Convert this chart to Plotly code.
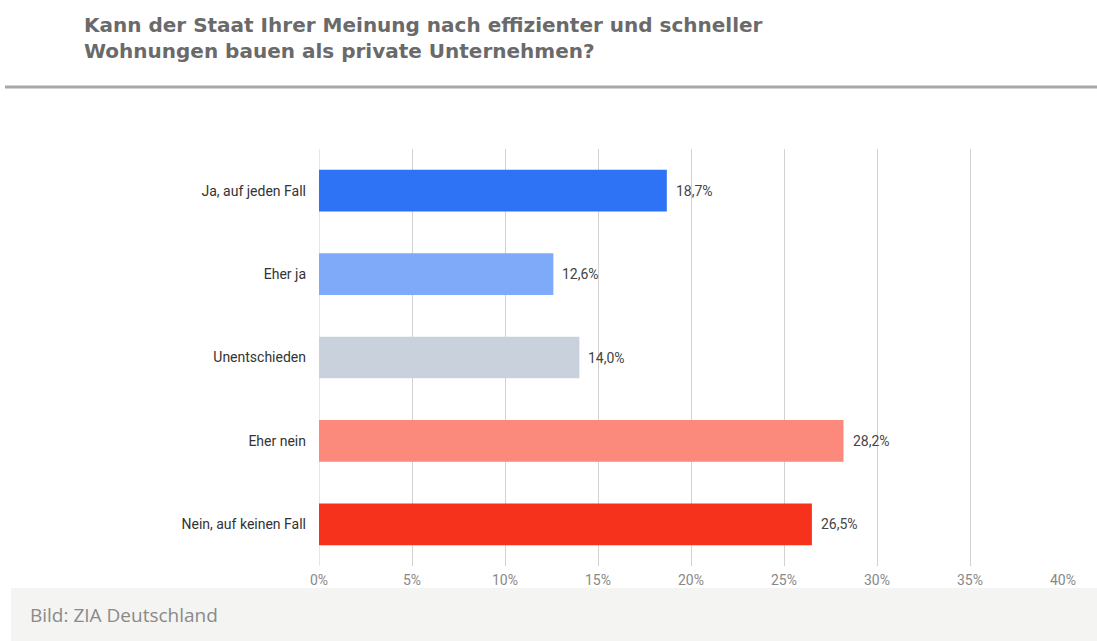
import plotly.graph_objects as go

# Survey answers (top to bottom) and their shares in percent
categories = ["Ja, auf jeden Fall", "Eher ja", "Unentschieden", "Eher nein", "Nein, auf keinen Fall"]
shares = [18.7, 12.6, 14.0, 28.2, 26.5]
bar_colors = ["#2e72f6", "#7eaaf9", "#c9d2dc", "#fb8a7c", "#f6321d"]
tick_values = [0, 5, 10, 15, 20, 25, 30, 35, 40]
tick_labels = [f"{t}%" for t in tick_values]

title_lines = [
    "Kann der Staat Ihrer Meinung nach effizienter und schneller",
    "Wohnungen bauen als private Unternehmen?",
]
credit = "Bild: ZIA Deutschland"

labels = [f"{v:.1f}%".replace(".", ",") for v in shares]

W, H = 1097, 641
L, R, T, B = 319, 34, 149, 75
PW, PH = W - L - R, H - T - B


def px_x(x):
    return (x - L) / PW


def px_y(y):
    return 1 - (y - T) / PH


fig = go.Figure(
    go.Bar(
        x=shares,
        y=categories,
        orientation="h",
        marker=dict(color=bar_colors, line=dict(width=0)),
        width=0.5,
        hoverinfo="skip",
    )
)

# value labels just right of each bar end
for cat, v, lab in zip(categories, shares, labels):
    fig.add_annotation(
        x=v, y=cat, xref="x", yref="y",
        text=lab, showarrow=False,
        xanchor="left", xshift=7,
        font=dict(family="Roboto, Arial, sans-serif", size=14, color="#444444"),
    )

# title block
fig.add_annotation(
    x=px_x(82), y=px_y(38), xref="paper", yref="paper",
    text="<b>" + "<br>".join(title_lines) + "</b>",
    showarrow=False, xanchor="left", yanchor="middle", align="left",
    font=dict(family="DejaVu Sans, Arial, sans-serif", size=20, color="#6a6a6a"),
)

# separator under the title
fig.add_shape(type="line", xref="paper", yref="paper",
              x0=px_x(5), x1=px_x(W), y0=px_y(87), y1=px_y(87),
              line=dict(color="#a8a8a8", width=3))
# grey credit band at the bottom
fig.add_shape(type="rect", xref="paper", yref="paper",
              x0=px_x(11), x1=px_x(W + 2), y0=px_y(H + 2), y1=px_y(588),
              fillcolor="#f4f4f2", line=dict(width=0), layer="below")
fig.add_annotation(
    x=px_x(28), y=px_y(615), xref="paper", yref="paper",
    text=credit, showarrow=False, xanchor="left", yanchor="middle",
    font=dict(family="Open Sans, sans-serif", size=19, color="#8a8a8a"),
)

fig.update_layout(
    width=W, height=H,
    margin=dict(l=L, r=R, t=T, b=B),
    paper_bgcolor="white", plot_bgcolor="white",
    showlegend=False,
    font=dict(family="Roboto, Arial, sans-serif"),
    xaxis=dict(
        range=[0, 40], tickmode="array", tickvals=tick_values, ticktext=tick_labels,
        showgrid=True, gridcolor="#d2d2d2", gridwidth=1,
        zeroline=True, zerolinecolor="#e6e6e6", zerolinewidth=1,
        showline=False, ticks="",
        ticklabelstandoff=4,
        tickfont=dict(size=14, color="#888888"),
        fixedrange=True,
    ),
    yaxis=dict(
        categoryorder="array", categoryarray=categories[::-1],
        showgrid=False, zeroline=False, showline=False, ticks="",
        ticklabelstandoff=12,
        tickfont=dict(size=14, color="#333333"),
        fixedrange=True,
    ),
)

fig.write_html("out.html")
